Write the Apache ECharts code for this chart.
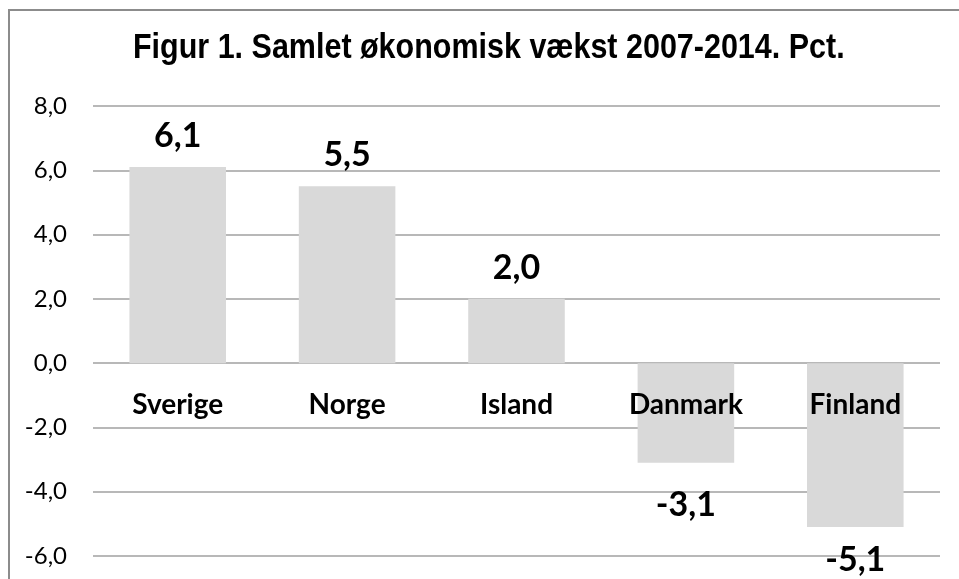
<!DOCTYPE html>
<html>
<head>
<meta charset="utf-8">
<script src="https://cdn.jsdelivr.net/npm/echarts@6/dist/echarts.min.js"></script>
<style>
html,body{margin:0;padding:0;background:#fff;}
#c{width:959px;height:579px;}
</style>
</head>
<body>
<div id="c"></div>
<script>
const categories = ['Sverige', 'Norge', 'Island', 'Danmark', 'Finland'];
const values = [6.1, 5.5, 2.0, -3.1, -5.1];
const yMin = -6, yMax = 8, yStep = 2;
const titleText = 'Figur 1. Samlet økonomisk vækst 2007-2014. Pct.';

const fmt = v => v.toFixed(1).replace('.', ',');
const chart = echarts.init(document.getElementById('c'));
chart.setOption({
  animation: false,
  backgroundColor: '#fff',
  graphic: [{
    type: 'rect',
    shape: { x: 9, y: 10, width: 980, height: 620 },
    style: { fill: 'none', stroke: '#8c8c8c', lineWidth: 2 },
    silent: true,
    z: 100
  }, {
    type: 'text',
    x: 133,
    y: 31,
    scaleX: 0.871,
    silent: true,
    style: {
      text: titleText,
      fontFamily: '"Liberation Sans", Arial, sans-serif',
      fontWeight: 'bold',
      fontSize: 35,
      fill: '#000',
      align: 'left',
      verticalAlign: 'top'
    }
  }],
  grid: { left: 93, right: 19, top: 106, bottom: 23, containLabel: false, outerBoundsMode: 'none' },
  xAxis: {
    type: 'category',
    data: categories,
    axisLine: { show: false },
    axisTick: { show: false },
    axisLabel: { show: false }
  },
  yAxis: {
    type: 'value',
    min: yMin,
    max: yMax,
    interval: yStep,
    axisLine: { show: false },
    axisTick: { show: false },
    splitLine: { lineStyle: { color: '#a0a0a0', width: 1.5 } },
    axisLabel: {
      margin: 26,
      formatter: v => fmt(v),
      fontFamily: 'Lato, "Open Sans", sans-serif',
      fontSize: 24,
      color: '#000'
    }
  },
  series: [{
    type: 'bar',
    barWidth: '57%',
    itemStyle: { color: '#d9d9d9' },
    z: 2,
    labelLayout: function (p) {
      const r = p.labelRect;
      if (r.y + r.height > 577) {
        return {
          x: r.x + r.width / 2,
          y: 577 - r.height,
          align: 'center',
          verticalAlign: 'top'
        };
      }
      return {};
    },
    data: values.map(v => ({
      value: v,
      label: {
        show: true,
        position: v >= 0 ? 'top' : 'bottom',
        distance: v >= 0 ? 14 : 25,
        formatter: p => fmt(p.value),
        fontFamily: 'Lato, "Open Sans", sans-serif',
        fontWeight: 'bold',
        fontSize: 34,
        color: '#000'
      }
    }))
  }, {
    type: 'scatter',
    symbolSize: 0,
    z: 5,
    silent: true,
    itemStyle: { opacity: 1 },
    data: categories.map(c => [c, 0]),
    label: {
      show: true,
      position: 'bottom',
      distance: 28,
      opacity: 1,
      formatter: p => p.value[0],
      fontFamily: 'Lato, "Open Sans", sans-serif',
      fontWeight: 'bold',
      fontSize: 28,
      color: '#000'
    }
  }]
});
</script>
</body>
</html>
